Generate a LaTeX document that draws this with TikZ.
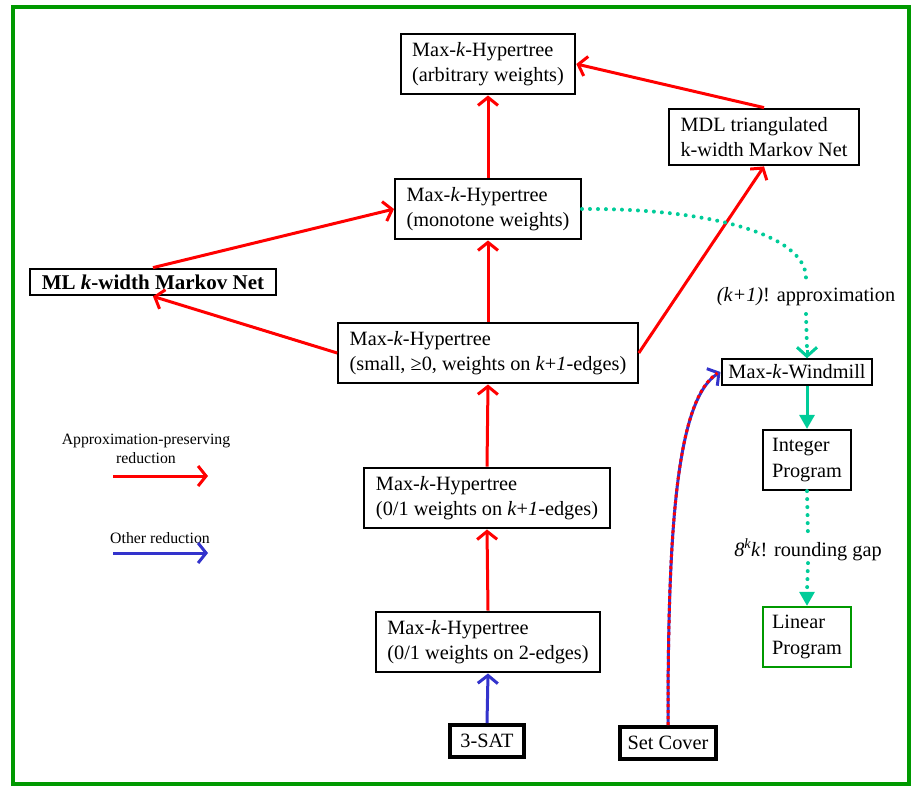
\documentclass[tikz,border=0pt]{standalone}
\usepackage{fontspec}
\setmainfont{Liberation Serif}
\usetikzlibrary{arrows.meta,calc}
\definecolor{myred}{RGB}{255,0,0}
\definecolor{myblue}{RGB}{51,51,204}
\definecolor{myteal}{RGB}{0,204,153}
\definecolor{mygreen}{RGB}{0,153,0}
\begin{document}
\begin{tikzpicture}[x=1pt,y=-1pt,
  box/.style={draw, line width=2pt, fill=white, align=left,
    font=\fontsize{20.3}{25.5}\selectfont, inner xsep=11.5pt, inner ysep=8.5pt},
  thickbox/.style={box, line width=4pt, inner ysep=9pt, inner xsep=10pt},
  greenbox/.style={box, draw=mygreen},
  redarrow/.style={draw=myred, line width=3pt, -{Straight Barb[length=8pt,width=20pt]}},
  bluearrow/.style={draw=myblue, line width=3pt, -{Straight Barb[length=8pt,width=20pt]}},
  tealdots/.style={draw=myteal, line width=4pt, line cap=round, dash pattern=on 0pt off 8pt},
  lbl/.style={fill=white, inner sep=2pt, font=\fontsize{20.3}{24}\selectfont},
  legend/.style={font=\fontsize{15.8}{18.5}\selectfont, align=center}
]
\useasboundingbox (0,0) rectangle (914,788);
\draw[mygreen, line width=4pt] (13,7) rectangle (909,784);

\node[box] (A) at (488,64) {Max-\textit{k}-Hypertree\\(arbitrary weights)};
\node[box] (MDL) at (764,137) {MDL triangulated\\k-width Markov Net};
\node[box] (B) at (488,209) {Max-\textit{k}-Hypertree\\(monotone weights)};
\node[box, font=\bfseries\fontsize{21}{24}\selectfont, inner ysep=6pt] (ML) at (153,282) {ML \textit{k}-width Markov Net};
\node[box] (C) at (488,353) {Max-\textit{k}-Hypertree\\(small, ≥0, weights on \textit{k}+\textit{1}-edges)};
\node[box, inner xsep=6pt, inner ysep=5.5pt] (W) at (797,372) {Max-\textit{k}-Windmill};
\node[box, inner xsep=9pt] (IP) at (807,460) {Integer\\Program};
\node[box] (D) at (487,498) {Max-\textit{k}-Hypertree\\(0/1 weights on \textit{k}+\textit{1}-edges)};
\node[greenbox, inner xsep=9pt] (LP) at (807,637) {Linear\\Program};
\node[box] (E) at (488,642) {Max-\textit{k}-Hypertree\\(0/1 weights on 2-edges)};
\node[thickbox] (SAT) at (487,741) {3-SAT};
\node[thickbox, inner xsep=8pt] (SC) at (668,743) {Set Cover};

% red reductions
\draw[redarrow] (B.north) -- (A.south);
\draw[redarrow] (MDL.north) -- (A.east);
\draw[redarrow] (C.north) -- (B.south);
\draw[redarrow] (ML.north) -- (B.west);
\draw[redarrow] (C.west) -- (ML.south);
\draw[redarrow] (C.east) -- (MDL.south);
\draw[redarrow] (D.north) -- (C.south);
\draw[redarrow] (E.north) -- (D.south);
% blue
\draw[bluearrow] (SAT.north) -- (E.south);
\coordinate (wend) at ($(W.west)+(-1,0)$);
\draw[bluearrow] (SC.north) .. controls (668,540) and (675,400) .. (wend);
\draw[myred, line width=3pt, dash pattern=on 3pt off 3pt] (SC.north) .. controls (668,540) and (675,400) .. ($(wend)+(-3,1)$);

% teal
\coordinate (wtop) at (W.north -| IP.north);
\node[lbl] (apx) at (806,297) {\textit{(k+1)}! approximation};
\draw[tealdots] (B.east) .. controls (710,208) and (806,235) .. (806,278);
\draw[tealdots] (806,314) -- ($(wtop)+(0,-10)$);
\draw[myteal, line width=3pt, -{Straight Barb[length=9pt,width=20pt]}] ($(wtop)+(0,-8)$) -- (wtop);
\draw[myteal, line width=3pt, -{Triangle[length=14pt,width=15pt]}] (W.south -| IP.north) -- (IP.north);
\node[lbl] (gap) at (808,550) {\textit{8}$^{\mathit{k}}$\textit{k}! rounding gap};
\draw[tealdots] (IP.south) -- (gap.north);
\draw[tealdots] (gap.south) -- ($(LP.north)+(0,-14)$);
\draw[myteal, line width=3pt, -{Triangle[length=14pt,width=15pt]}] ($(LP.north)+(0,-14)$) -- (LP.north);

% legend
\node[legend] (L1) at (146,449) {Approximation-preserving\\reduction};
\coordinate (l1a) at (113,476);
\coordinate (l1b) at (208,476);
\draw[redarrow] (l1a) -- (l1b);
\node[legend] (L2) at (160,538) {Other reduction};
\coordinate (l2a) at (113,553);
\coordinate (l2b) at (208,553);
\draw[bluearrow] (l2a) -- (l2b);
\end{tikzpicture}
\end{document}
